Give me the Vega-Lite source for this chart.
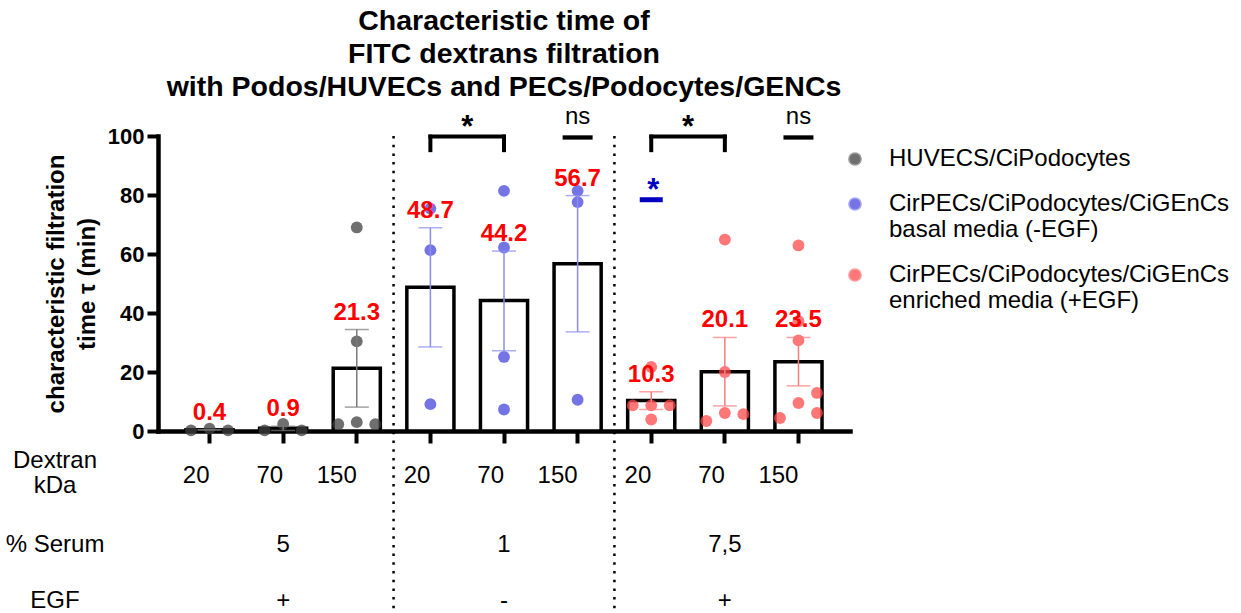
{
  "$schema": "https://vega.github.io/schema/vega-lite/v6.json",
  "width": 692,
  "height": 295,
  "autosize": {"type": "none"},
  "padding": {"left": 158, "top": 136, "right": 391, "bottom": 182},
  "config": {
    "font": "Liberation Sans",
    "view": {"stroke": null},
    "axis": {"domainColor": "black", "tickColor": "black", "labelColor": "black", "titleColor": "black", "grid": false}
  },
  "title": {
    "text": ["Characteristic time of", "FITC dextrans filtration", "with Podos/HUVECs and PECs/Podocytes/GENCs"],
    "fontSize": 28.5,
    "fontWeight": "bold",
    "anchor": "middle",
    "frame": "group",
    "lineHeight": 33,
    "offset": 4,
    "color": "black"
  },
  "datasets": {
    "summary": [
      {"cond": "HU-20", "group": "HUVECS/CiPodocytes", "mean": 0.4, "lo": 0.33, "hi": 0.47},
      {"cond": "HU-70", "group": "HUVECS/CiPodocytes", "mean": 0.9, "lo": 0.2, "hi": 1.6},
      {"cond": "HU-150", "group": "HUVECS/CiPodocytes", "mean": 21.3, "lo": 8.1, "hi": 34.4},
      {"cond": "B-20", "group": "CirPECs/CiPodocytes/CiGEnCs basal media (-EGF)", "mean": 48.7, "lo": 28.5, "hi": 68.9},
      {"cond": "B-70", "group": "CirPECs/CiPodocytes/CiGEnCs basal media (-EGF)", "mean": 44.2, "lo": 27.2, "hi": 61.0},
      {"cond": "B-150", "group": "CirPECs/CiPodocytes/CiGEnCs basal media (-EGF)", "mean": 56.7, "lo": 33.6, "hi": 79.8},
      {"cond": "E-20", "group": "CirPECs/CiPodocytes/CiGEnCs enriched media (+EGF)", "mean": 10.3, "lo": 7.3, "hi": 13.3},
      {"cond": "E-70", "group": "CirPECs/CiPodocytes/CiGEnCs enriched media (+EGF)", "mean": 20.1, "lo": 8.5, "hi": 31.7},
      {"cond": "E-150", "group": "CirPECs/CiPodocytes/CiGEnCs enriched media (+EGF)", "mean": 23.5, "lo": 15.3, "hi": 31.7}
    ],
    "points": [
      {"cond": "HU-20", "group": "HUVECS/CiPodocytes", "slot": -1, "value": 0.2},
      {"cond": "HU-20", "group": "HUVECS/CiPodocytes", "slot": 0, "value": 0.8},
      {"cond": "HU-20", "group": "HUVECS/CiPodocytes", "slot": 1, "value": 0.2},
      {"cond": "HU-70", "group": "HUVECS/CiPodocytes", "slot": -1, "value": 0.2},
      {"cond": "HU-70", "group": "HUVECS/CiPodocytes", "slot": 0, "value": 2.4},
      {"cond": "HU-70", "group": "HUVECS/CiPodocytes", "slot": 1, "value": 0.2},
      {"cond": "HU-150", "group": "HUVECS/CiPodocytes", "slot": -1, "value": 2.3},
      {"cond": "HU-150", "group": "HUVECS/CiPodocytes", "slot": 0, "value": 69.0},
      {"cond": "HU-150", "group": "HUVECS/CiPodocytes", "slot": 0, "value": 30.4},
      {"cond": "HU-150", "group": "HUVECS/CiPodocytes", "slot": 0, "value": 3.0},
      {"cond": "HU-150", "group": "HUVECS/CiPodocytes", "slot": 1, "value": 2.3},
      {"cond": "B-20", "group": "CirPECs/CiPodocytes/CiGEnCs basal media (-EGF)", "slot": 0, "value": 75.4},
      {"cond": "B-20", "group": "CirPECs/CiPodocytes/CiGEnCs basal media (-EGF)", "slot": 0, "value": 61.3},
      {"cond": "B-20", "group": "CirPECs/CiPodocytes/CiGEnCs basal media (-EGF)", "slot": 0, "value": 9.1},
      {"cond": "B-70", "group": "CirPECs/CiPodocytes/CiGEnCs basal media (-EGF)", "slot": 0, "value": 81.4},
      {"cond": "B-70", "group": "CirPECs/CiPodocytes/CiGEnCs basal media (-EGF)", "slot": 0, "value": 62.2},
      {"cond": "B-70", "group": "CirPECs/CiPodocytes/CiGEnCs basal media (-EGF)", "slot": 0, "value": 25.1},
      {"cond": "B-70", "group": "CirPECs/CiPodocytes/CiGEnCs basal media (-EGF)", "slot": 0, "value": 7.3},
      {"cond": "B-150", "group": "CirPECs/CiPodocytes/CiGEnCs basal media (-EGF)", "slot": 0, "value": 81.4},
      {"cond": "B-150", "group": "CirPECs/CiPodocytes/CiGEnCs basal media (-EGF)", "slot": 0, "value": 77.6},
      {"cond": "B-150", "group": "CirPECs/CiPodocytes/CiGEnCs basal media (-EGF)", "slot": 0, "value": 10.6},
      {"cond": "E-20", "group": "CirPECs/CiPodocytes/CiGEnCs enriched media (+EGF)", "slot": -1, "value": 8.7},
      {"cond": "E-20", "group": "CirPECs/CiPodocytes/CiGEnCs enriched media (+EGF)", "slot": 0, "value": 8.7},
      {"cond": "E-20", "group": "CirPECs/CiPodocytes/CiGEnCs enriched media (+EGF)", "slot": 1, "value": 8.7},
      {"cond": "E-20", "group": "CirPECs/CiPodocytes/CiGEnCs enriched media (+EGF)", "slot": 0, "value": 21.7},
      {"cond": "E-20", "group": "CirPECs/CiPodocytes/CiGEnCs enriched media (+EGF)", "slot": 0, "value": 3.9},
      {"cond": "E-70", "group": "CirPECs/CiPodocytes/CiGEnCs enriched media (+EGF)", "slot": -1, "value": 3.4},
      {"cond": "E-70", "group": "CirPECs/CiPodocytes/CiGEnCs enriched media (+EGF)", "slot": 0, "value": 64.9},
      {"cond": "E-70", "group": "CirPECs/CiPodocytes/CiGEnCs enriched media (+EGF)", "slot": 0, "value": 20.0},
      {"cond": "E-70", "group": "CirPECs/CiPodocytes/CiGEnCs enriched media (+EGF)", "slot": 0, "value": 6.1},
      {"cond": "E-70", "group": "CirPECs/CiPodocytes/CiGEnCs enriched media (+EGF)", "slot": 1, "value": 5.7},
      {"cond": "E-150", "group": "CirPECs/CiPodocytes/CiGEnCs enriched media (+EGF)", "slot": -1, "value": 4.4},
      {"cond": "E-150", "group": "CirPECs/CiPodocytes/CiGEnCs enriched media (+EGF)", "slot": 0, "value": 62.9},
      {"cond": "E-150", "group": "CirPECs/CiPodocytes/CiGEnCs enriched media (+EGF)", "slot": 0, "value": 37.2},
      {"cond": "E-150", "group": "CirPECs/CiPodocytes/CiGEnCs enriched media (+EGF)", "slot": 0, "value": 30.7},
      {"cond": "E-150", "group": "CirPECs/CiPodocytes/CiGEnCs enriched media (+EGF)", "slot": 0, "value": 9.5},
      {"cond": "E-150", "group": "CirPECs/CiPodocytes/CiGEnCs enriched media (+EGF)", "slot": 1, "value": 12.9},
      {"cond": "E-150", "group": "CirPECs/CiPodocytes/CiGEnCs enriched media (+EGF)", "slot": 1, "value": 6.1}
    ],
    "rows": [
      {"cond": "HU-70", "serum": "5", "egf": "+"},
      {"cond": "B-70", "serum": "1", "egf": "-"},
      {"cond": "E-70", "serum": "7,5", "egf": "+"}
    ]
  },
  "layer": [
    {
      "data": {"values": [{"cond": "HU-150"}, {"cond": "B-150"}]},
      "mark": {"type": "rule", "color": "black", "strokeWidth": 2.5, "strokeDash": [2.5, 6.2], "xOffset": 36.8},
      "encoding": {
        "x": {"field": "cond", "type": "nominal"},
        "y": {"datum": 100, "type": "quantitative"},
        "y2": {"datum": -62}
      }
    },
    {
      "data": {"name": "summary"},
      "mark": {"type": "bar", "fill": "white", "stroke": "black", "strokeWidth": 3.5},
      "encoding": {
        "x": {
          "field": "cond",
          "type": "nominal",
          "scale": {"domain": ["HU-20", "HU-70", "HU-150", "B-20", "B-70", "B-150", "E-20", "E-70", "E-150"], "paddingInner": 0.36, "paddingOuter": 0.38},
          "axis": {
            "title": null,
            "labelExpr": "split(datum.value, '-')[1]",
            "labelAngle": 0,
            "labelFontSize": 24,
            "labelPadding": 32,
            "tickSize": 12,
            "tickWidth": 4,
            "domainWidth": 4.5,
            "domainCap": "square"
          }
        },
        "y": {
          "field": "mean",
          "type": "quantitative",
          "scale": {"domain": [0, 100], "nice": false},
          "axis": {
            "title": ["characteristic filtration", "time τ (min)"],
            "titleFontSize": 24,
            "titleFontWeight": "bold",
            "titleLineHeight": 31,
            "titlePadding": 8,
            "values": [0, 20, 40, 60, 80, 100],
            "labelFontSize": 22,
            "labelFontWeight": "bold",
            "labelPadding": 3,
            "tickSize": 11,
            "tickWidth": 4,
            "domainWidth": 4.5,
            "domainCap": "square"
          }
        }
      }
    },
    {
      "data": {"name": "points"},
      "transform": [{"filter": "datum.slot == 0"}],
      "mark": {"type": "circle", "size": 140, "opacity": 0.75},
      "encoding": {
        "x": {"field": "cond", "type": "nominal"},
        "y": {"field": "value", "type": "quantitative"},
        "color": {
          "field": "group",
          "type": "nominal",
          "scale": {
            "domain": ["HUVECS/CiPodocytes", "CirPECs/CiPodocytes/CiGEnCs basal media (-EGF)", "CirPECs/CiPodocytes/CiGEnCs enriched media (+EGF)"],
            "range": ["#3f3f3f", "#4646dc", "#ff4a4a"]
          },
          "legend": {
            "title": null,
            "orient": "right",
            "offset": -18,
            "padding": 11,
            "labelFontSize": 24,
            "labelColor": "black",
            "labelLimit": 0,
            "labelOffset": 22,
            "symbolSize": 150,
            "symbolType": "circle",
            "rowPadding": 21,
            "labelExpr": "split(replace(datum.label, 'CiGEnCs ', 'CiGEnCs|'), '|')",
            "encode": {"labels": {"lineHeight": {"value": 29}, "dy": {"value": {"signal": "datum.value != 'HUVECS/CiPodocytes' ? -29 : 0"}}}}
          }
        }
      }
    },
    {
      "data": {"name": "points"},
      "transform": [{"filter": "datum.slot == -1"}],
      "mark": {"type": "circle", "size": 140, "opacity": 0.75, "xOffset": -18.5},
      "encoding": {
        "x": {"field": "cond", "type": "nominal"},
        "y": {"field": "value", "type": "quantitative"},
        "color": {"field": "group", "type": "nominal"}
      }
    },
    {
      "data": {"name": "points"},
      "transform": [{"filter": "datum.slot == 1"}],
      "mark": {"type": "circle", "size": 140, "opacity": 0.75, "xOffset": 18.5},
      "encoding": {
        "x": {"field": "cond", "type": "nominal"},
        "y": {"field": "value", "type": "quantitative"},
        "color": {"field": "group", "type": "nominal"}
      }
    },
    {
      "data": {"name": "summary"},
      "mark": {"type": "rule", "strokeWidth": 1.5},
      "encoding": {
        "x": {"field": "cond", "type": "nominal"},
        "y": {"field": "lo", "type": "quantitative"},
        "y2": {"field": "hi"},
        "stroke": {
          "field": "group",
          "type": "nominal",
          "scale": {
            "domain": ["HUVECS/CiPodocytes", "CirPECs/CiPodocytes/CiGEnCs basal media (-EGF)", "CirPECs/CiPodocytes/CiGEnCs enriched media (+EGF)"],
            "range": ["#7a7a7a", "#8c8cf0", "#ff7a7a"]
          },
          "legend": null
        }
      }
    },
    {
      "data": {"name": "summary"},
      "transform": [{"fold": ["lo", "hi"], "as": ["end", "v"]}],
      "mark": {"type": "tick", "size": 24, "thickness": 1.5, "filled": true},
      "encoding": {
        "x": {"field": "cond", "type": "nominal"},
        "y": {"field": "v", "type": "quantitative"},
        "fill": {
          "field": "group",
          "type": "nominal",
          "scale": {
            "domain": ["HUVECS/CiPodocytes", "CirPECs/CiPodocytes/CiGEnCs basal media (-EGF)", "CirPECs/CiPodocytes/CiGEnCs enriched media (+EGF)"],
            "range": ["#7a7a7a", "#8c8cf0", "#ff7a7a"]
          },
          "legend": null
        }
      }
    },
    {
      "data": {"name": "summary"},
      "mark": {"type": "text", "color": "#ff0000", "fontSize": 24, "fontWeight": "bold", "baseline": "middle", "dy": -17},
      "encoding": {
        "x": {"field": "cond", "type": "nominal"},
        "y": {"field": "hi", "type": "quantitative"},
        "text": {"field": "mean", "type": "quantitative", "format": ".1f"}
      }
    },
    {
      "data": {"values": [{"from": "B-20", "to": "B-70"}, {"from": "E-20", "to": "E-70"}]},
      "mark": {"type": "rule", "color": "black", "strokeWidth": 4, "strokeCap": "square"},
      "encoding": {
        "x": {"field": "from", "type": "nominal"},
        "x2": {"field": "to"},
        "y": {"datum": 99.8, "type": "quantitative"}
      }
    },
    {
      "data": {"values": [{"cond": "B-20"}, {"cond": "B-70"}, {"cond": "E-20"}, {"cond": "E-70"}]},
      "mark": {"type": "rule", "color": "black", "strokeWidth": 4, "strokeCap": "square"},
      "encoding": {
        "x": {"field": "cond", "type": "nominal"},
        "y": {"datum": 99.8, "type": "quantitative"},
        "y2": {"datum": 95.2}
      }
    },
    {
      "data": {"values": [{"cond": "B-20", "t": "*"}, {"cond": "E-20", "t": "*"}]},
      "mark": {"type": "text", "color": "black", "fontSize": 31, "fontWeight": "bold", "baseline": "alphabetic", "xOffset": 36.8},
      "encoding": {
        "x": {"field": "cond", "type": "nominal"},
        "y": {"datum": 99.6, "type": "quantitative"},
        "text": {"field": "t"}
      }
    },
    {
      "data": {"values": [{"cond": "B-150", "t": "ns"}, {"cond": "E-150", "t": "ns"}]},
      "mark": {"type": "text", "color": "black", "fontSize": 24, "baseline": "alphabetic"},
      "encoding": {
        "x": {"field": "cond", "type": "nominal"},
        "y": {"datum": 104, "type": "quantitative"},
        "text": {"field": "t"}
      }
    },
    {
      "data": {"values": [{"cond": "B-150"}, {"cond": "E-150"}]},
      "mark": {"type": "tick", "color": "black", "size": 30, "thickness": 4.3, "opacity": 1},
      "encoding": {
        "x": {"field": "cond", "type": "nominal"},
        "y": {"datum": 99.5, "type": "quantitative"}
      }
    },
    {
      "data": {"values": [{"cond": "E-20", "t": "*"}]},
      "mark": {"type": "text", "color": "#0000c0", "fontSize": 31, "fontWeight": "bold", "baseline": "alphabetic", "xOffset": 2},
      "encoding": {
        "x": {"field": "cond", "type": "nominal"},
        "y": {"datum": 78.4, "type": "quantitative"},
        "text": {"field": "t"}
      }
    },
    {
      "data": {"values": [{"cond": "E-20"}]},
      "mark": {"type": "tick", "color": "#0000c0", "size": 23, "thickness": 5, "opacity": 1},
      "encoding": {
        "x": {"field": "cond", "type": "nominal"},
        "y": {"datum": 78.4, "type": "quantitative"}
      }
    },
    {
      "data": {"name": "rows"},
      "mark": {"type": "text", "color": "black", "fontSize": 24, "baseline": "middle"},
      "encoding": {
        "x": {"field": "cond", "type": "nominal"},
        "y": {"datum": -38.7, "type": "quantitative"},
        "text": {"field": "serum"}
      }
    },
    {
      "data": {"name": "rows"},
      "mark": {"type": "text", "color": "black", "fontSize": 24, "baseline": "middle"},
      "encoding": {
        "x": {"field": "cond", "type": "nominal"},
        "y": {"datum": -57.7, "type": "quantitative"},
        "text": {"field": "egf"}
      }
    },
    {
      "data": {"values": [{"cond": "HU-20", "t": "Dextran\nkDa", "pos": -10.3}, {"cond": "HU-20", "t": "% Serum", "pos": -38.7}, {"cond": "HU-20", "t": "EGF", "pos": -57.7}]},
      "mark": {"type": "text", "color": "black", "fontSize": 24, "baseline": "middle", "lineBreak": "\n", "lineHeight": 25, "dx": -154.5},
      "encoding": {
        "x": {"field": "cond", "type": "nominal"},
        "y": {"field": "pos", "type": "quantitative"},
        "text": {"field": "t"}
      }
    }
  ]
}
